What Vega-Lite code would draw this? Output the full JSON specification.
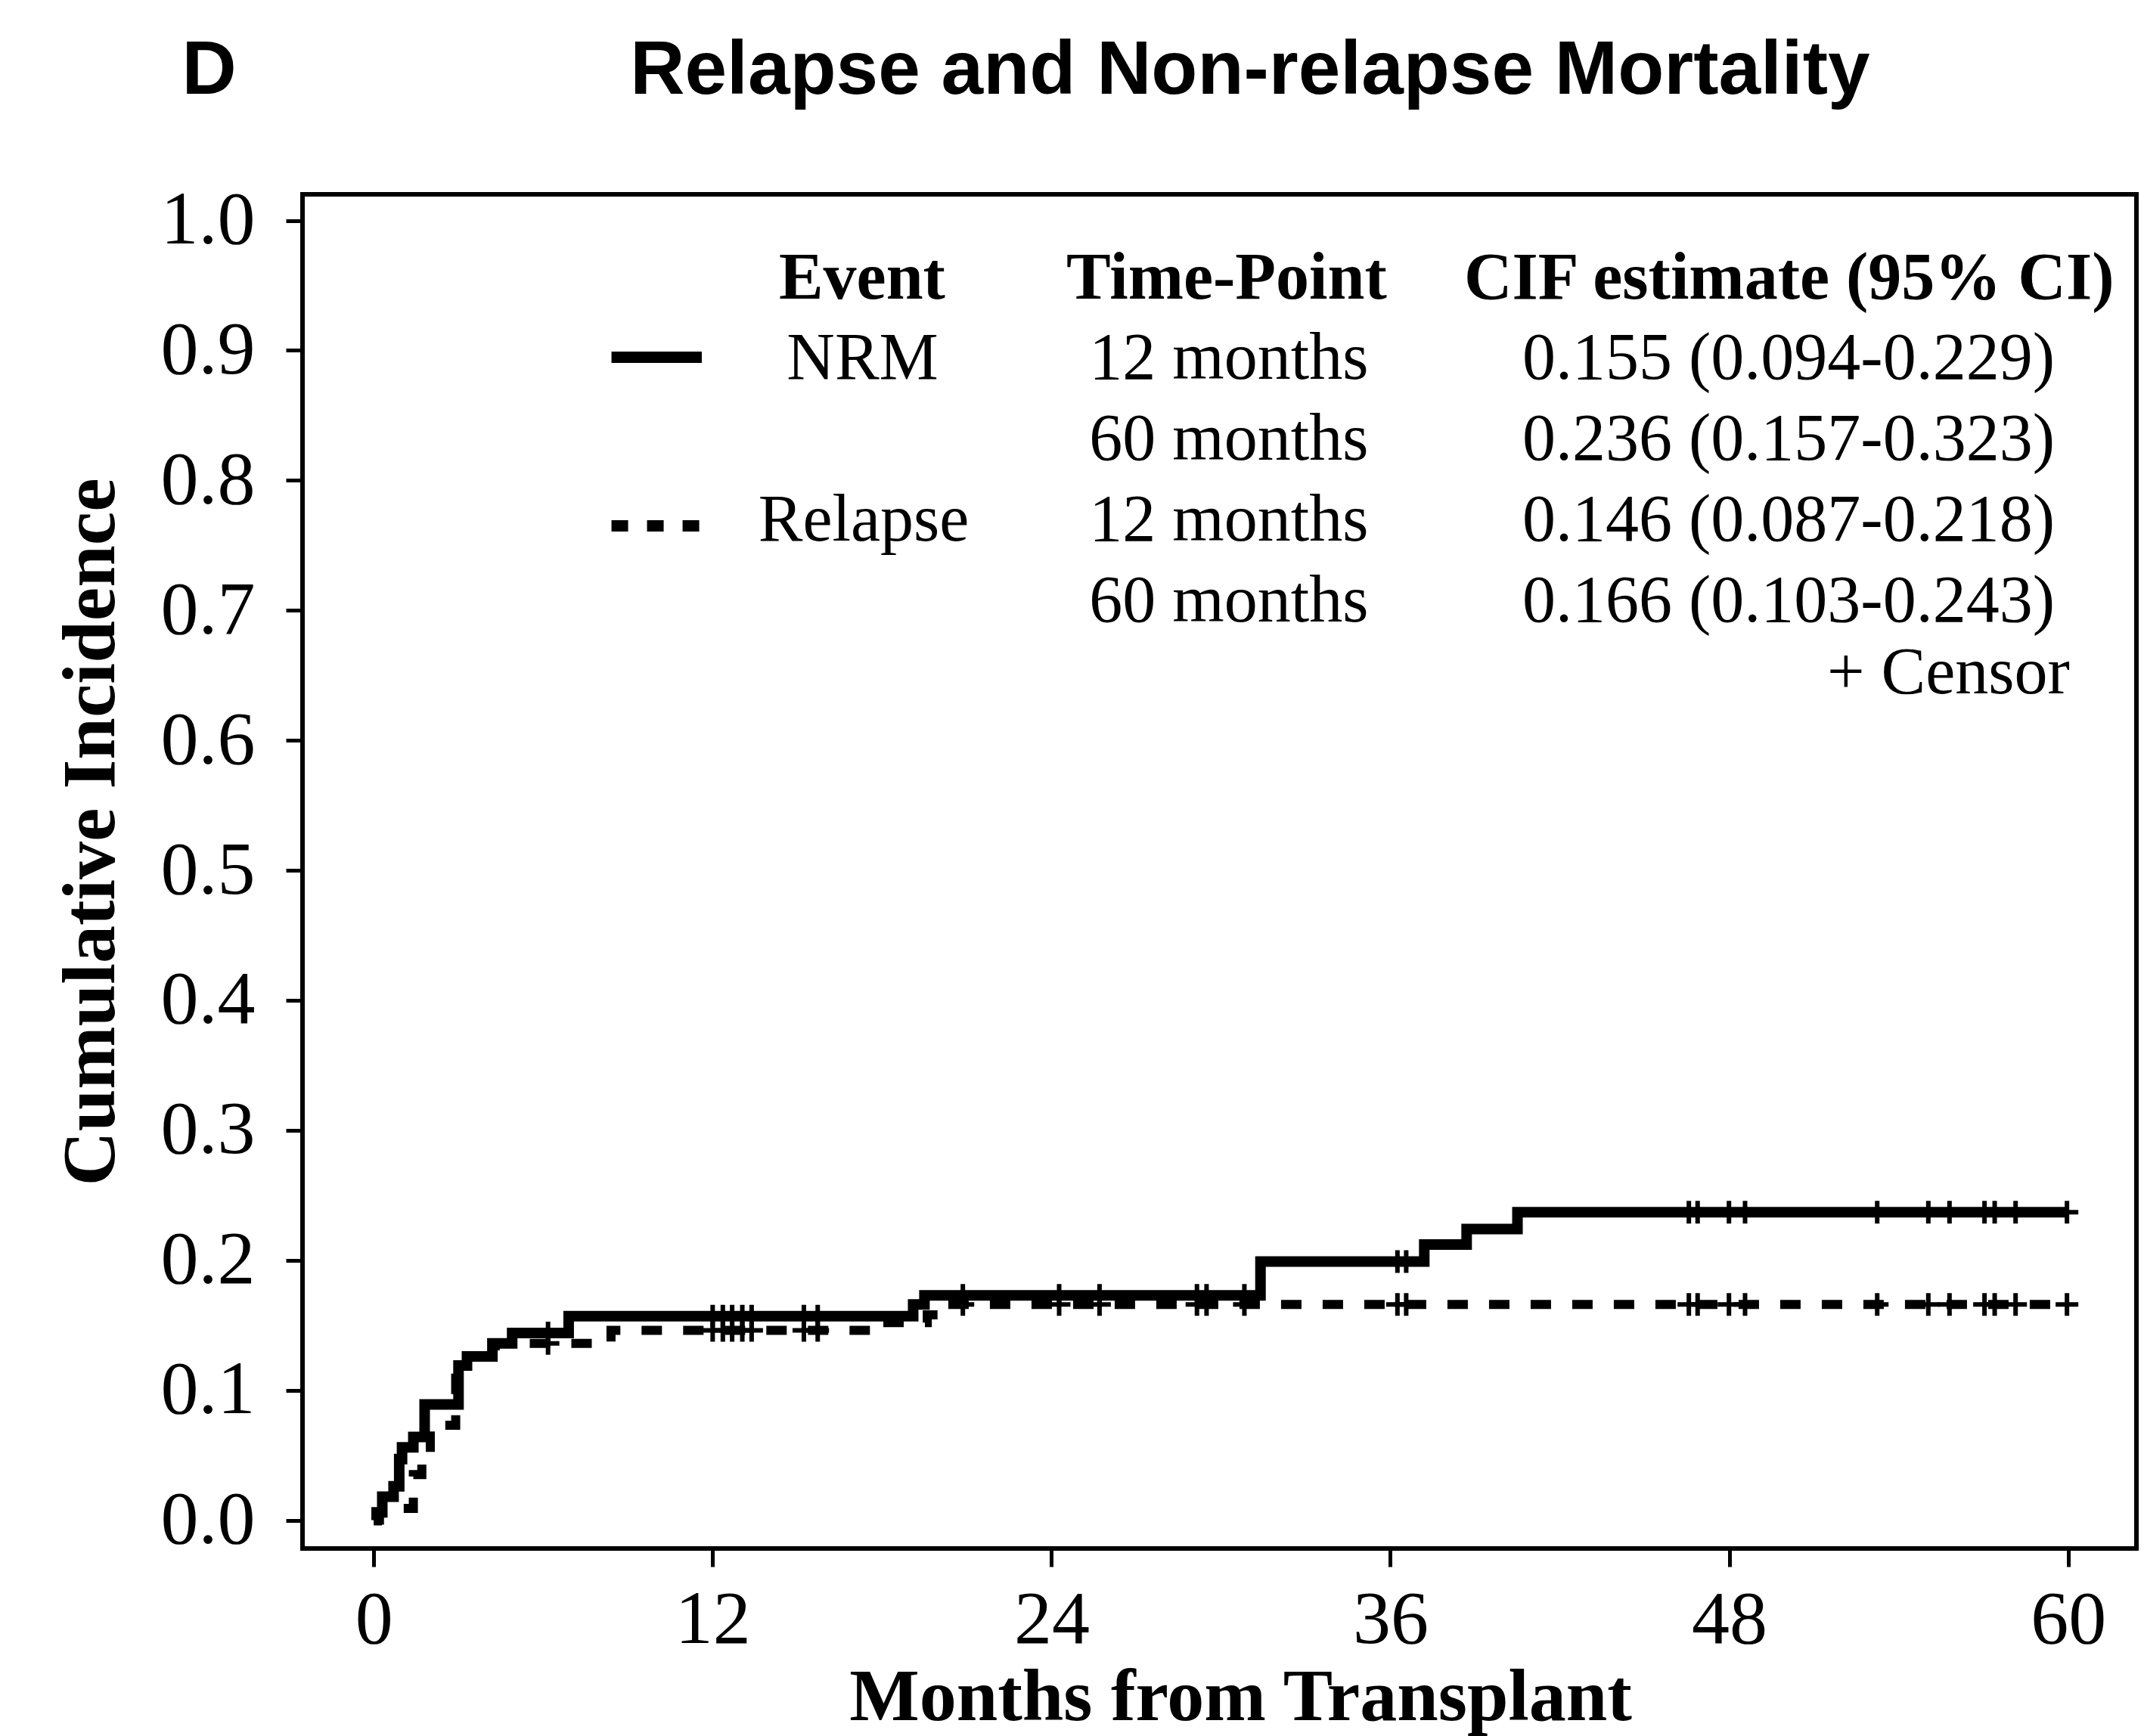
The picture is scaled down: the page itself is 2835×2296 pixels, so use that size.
{
  "$schema": "https://vega.github.io/schema/vega-lite/v6.json",
  "width": 2425,
  "height": 1791,
  "autosize": {"type": "none"},
  "padding": {"left": 400, "top": 257, "right": 10, "bottom": 248},
  "background": "white",
  "config": {
    "view": {"stroke": "black", "strokeWidth": 6},
    "axis": {"grid": false, "domain": false, "tickColor": "black", "labelColor": "black", "titleColor": "black"}
  },
  "datasets": {
    "steps": [
      {"event": "NRM", "month": 0, "cif": 0},
      {"event": "NRM", "month": 0.1, "cif": 0.006},
      {"event": "NRM", "month": 0.3, "cif": 0.018},
      {"event": "NRM", "month": 0.7, "cif": 0.026},
      {"event": "NRM", "month": 0.9, "cif": 0.047},
      {"event": "NRM", "month": 1.0, "cif": 0.056},
      {"event": "NRM", "month": 1.4, "cif": 0.064},
      {"event": "NRM", "month": 1.8, "cif": 0.089},
      {"event": "NRM", "month": 3.0, "cif": 0.119},
      {"event": "NRM", "month": 3.3, "cif": 0.126},
      {"event": "NRM", "month": 4.2, "cif": 0.136},
      {"event": "NRM", "month": 4.9, "cif": 0.144},
      {"event": "NRM", "month": 6.9, "cif": 0.157},
      {"event": "NRM", "month": 19.1, "cif": 0.166},
      {"event": "NRM", "month": 19.5, "cif": 0.173},
      {"event": "NRM", "month": 31.4, "cif": 0.199},
      {"event": "NRM", "month": 37.2, "cif": 0.212},
      {"event": "NRM", "month": 38.7, "cif": 0.224},
      {"event": "NRM", "month": 40.5, "cif": 0.237},
      {"event": "NRM", "month": 60, "cif": 0.237},
      {"event": "Relapse", "month": 0, "cif": 0},
      {"event": "Relapse", "month": 0.2, "cif": 0.006},
      {"event": "Relapse", "month": 0.6, "cif": 0.009},
      {"event": "Relapse", "month": 1.4, "cif": 0.035},
      {"event": "Relapse", "month": 1.7, "cif": 0.056},
      {"event": "Relapse", "month": 2.0, "cif": 0.073},
      {"event": "Relapse", "month": 2.9, "cif": 0.119},
      {"event": "Relapse", "month": 3.3, "cif": 0.126},
      {"event": "Relapse", "month": 4.3, "cif": 0.136},
      {"event": "Relapse", "month": 8.4, "cif": 0.146},
      {"event": "Relapse", "month": 18.0, "cif": 0.152},
      {"event": "Relapse", "month": 19.6, "cif": 0.158},
      {"event": "Relapse", "month": 20.0, "cif": 0.166},
      {"event": "Relapse", "month": 60, "cif": 0.166}
    ],
    "censor": [
      {"event": "NRM", "month": 6.17, "cif": 0.144},
      {"event": "NRM", "month": 12.0, "cif": 0.157},
      {"event": "NRM", "month": 12.36, "cif": 0.157},
      {"event": "NRM", "month": 12.69, "cif": 0.157},
      {"event": "NRM", "month": 13.05, "cif": 0.157},
      {"event": "NRM", "month": 13.38, "cif": 0.157},
      {"event": "NRM", "month": 15.23, "cif": 0.157},
      {"event": "NRM", "month": 15.72, "cif": 0.157},
      {"event": "NRM", "month": 20.86, "cif": 0.173},
      {"event": "NRM", "month": 24.27, "cif": 0.173},
      {"event": "NRM", "month": 25.7, "cif": 0.173},
      {"event": "NRM", "month": 29.15, "cif": 0.173},
      {"event": "NRM", "month": 29.49, "cif": 0.173},
      {"event": "NRM", "month": 30.83, "cif": 0.173},
      {"event": "NRM", "month": 36.25, "cif": 0.199},
      {"event": "NRM", "month": 36.56, "cif": 0.199},
      {"event": "NRM", "month": 46.57, "cif": 0.237},
      {"event": "NRM", "month": 46.88, "cif": 0.237},
      {"event": "NRM", "month": 47.99, "cif": 0.237},
      {"event": "NRM", "month": 48.56, "cif": 0.237},
      {"event": "NRM", "month": 53.24, "cif": 0.237},
      {"event": "NRM", "month": 55.05, "cif": 0.237},
      {"event": "NRM", "month": 55.8, "cif": 0.237},
      {"event": "NRM", "month": 57.04, "cif": 0.237},
      {"event": "NRM", "month": 57.4, "cif": 0.237},
      {"event": "NRM", "month": 58.14, "cif": 0.237},
      {"event": "NRM", "month": 59.96, "cif": 0.237},
      {"event": "Relapse", "month": 6.17, "cif": 0.136},
      {"event": "Relapse", "month": 12.0, "cif": 0.146},
      {"event": "Relapse", "month": 12.36, "cif": 0.146},
      {"event": "Relapse", "month": 12.69, "cif": 0.146},
      {"event": "Relapse", "month": 13.05, "cif": 0.146},
      {"event": "Relapse", "month": 13.38, "cif": 0.146},
      {"event": "Relapse", "month": 15.23, "cif": 0.146},
      {"event": "Relapse", "month": 15.72, "cif": 0.146},
      {"event": "Relapse", "month": 20.86, "cif": 0.166},
      {"event": "Relapse", "month": 24.27, "cif": 0.166},
      {"event": "Relapse", "month": 25.7, "cif": 0.166},
      {"event": "Relapse", "month": 29.15, "cif": 0.166},
      {"event": "Relapse", "month": 29.49, "cif": 0.166},
      {"event": "Relapse", "month": 30.83, "cif": 0.166},
      {"event": "Relapse", "month": 36.25, "cif": 0.166},
      {"event": "Relapse", "month": 36.56, "cif": 0.166},
      {"event": "Relapse", "month": 46.57, "cif": 0.166},
      {"event": "Relapse", "month": 46.88, "cif": 0.166},
      {"event": "Relapse", "month": 47.99, "cif": 0.166},
      {"event": "Relapse", "month": 48.56, "cif": 0.166},
      {"event": "Relapse", "month": 53.24, "cif": 0.166},
      {"event": "Relapse", "month": 55.05, "cif": 0.166},
      {"event": "Relapse", "month": 55.8, "cif": 0.166},
      {"event": "Relapse", "month": 57.04, "cif": 0.166},
      {"event": "Relapse", "month": 57.4, "cif": 0.166},
      {"event": "Relapse", "month": 58.14, "cif": 0.166},
      {"event": "Relapse", "month": 59.96, "cif": 0.166}
    ]
  },
  "layer": [
    {
      "data": {"name": "steps"},
      "transform": [{"filter": "datum.event == 'NRM'"}],
      "mark": {"type": "line", "interpolate": "step-after", "color": "black", "strokeWidth": 14, "strokeCap": "butt", "strokeJoin": "miter"},
      "encoding": {
        "x": {
          "field": "month",
          "type": "quantitative",
          "scale": {"domain": [-2.525, 62.42], "nice": false, "zero": false},
          "axis": {
            "values": [0, 12, 24, 36, 48, 60],
            "tickSize": 24,
            "tickWidth": 5,
            "labelFont": "Liberation Serif",
            "labelFontSize": 100,
            "labelBaseline": "alphabetic",
            "labelPadding": 100,
            "labelFlush": false,
            "labelOverlap": false,
            "title": "Months from Transplant",
            "titleFont": "Liberation Serif",
            "titleFontSize": 98,
            "titleFontWeight": "bold",
            "titleX": 1240,
            "titleY": 226,
            "titleAlign": "center",
            "titleBaseline": "alphabetic"
          }
        },
        "y": {
          "field": "cif",
          "type": "quantitative",
          "scale": {"domain": [-0.0218, 1.0201], "nice": false, "zero": false},
          "axis": {
            "values": [0, 0.1, 0.2, 0.3, 0.4, 0.5, 0.6, 0.7, 0.8, 0.9, 1.0],
            "format": ".1f",
            "tickSize": 22,
            "tickWidth": 5,
            "labelFont": "Liberation Serif",
            "labelFontSize": 100,
            "labelPadding": 41,
            "labelBaseline": "middle",
            "labelFlush": false,
            "labelOverlap": false,
            "title": "Cumulative Incidence",
            "titleFont": "Liberation Serif",
            "titleFontSize": 100,
            "titleFontWeight": "bold",
            "titleAngle": 270,
            "titleX": -250,
            "titleY": 843,
            "titleAlign": "center",
            "titleBaseline": "alphabetic"
          }
        }
      }
    },
    {
      "data": {"name": "steps"},
      "transform": [{"filter": "datum.event == 'Relapse'"}],
      "mark": {"type": "line", "interpolate": "step-after", "color": "black", "strokeWidth": 12, "strokeCap": "butt", "strokeJoin": "miter", "strokeDash": [27, 28]},
      "encoding": {
        "x": {"field": "month", "type": "quantitative"},
        "y": {"field": "cif", "type": "quantitative"}
      }
    },
    {
      "data": {"name": "censor"},
      "mark": {"type": "point", "shape": "M-1,0H1M0,-1V1", "filled": false, "color": "black", "stroke": "black", "strokeWidth": 6, "size": 900, "opacity": 1},
      "encoding": {
        "x": {"field": "month", "type": "quantitative"},
        "y": {"field": "cif", "type": "quantitative"}
      }
    },
    {
      "data": {"values": [{"label": "D"}]},
      "mark": {"type": "text", "font": "Liberation Sans", "fontSize": 100, "fontWeight": "bold", "color": "black", "align": "left", "baseline": "alphabetic"},
      "encoding": {"x": {"datum": -6.794, "type": "quantitative"}, "y": {"datum": 1.0973, "type": "quantitative"}, "text": {"field": "label"}}
    },
    {
      "data": {"values": [{"label": "Relapse and Non-relapse Mortality"}]},
      "mark": {"type": "text", "font": "Liberation Sans", "fontSize": 100, "fontWeight": "bold", "color": "black", "align": "center", "baseline": "alphabetic"},
      "encoding": {"x": {"datum": 31.03, "type": "quantitative"}, "y": {"datum": 1.0973, "type": "quantitative"}, "text": {"field": "label"}}
    },
    {
      "data": {"values": [{"sample": "NRM"}]},
      "mark": {"type": "rule", "color": "black", "strokeWidth": 15, "strokeCap": "butt"},
      "encoding": {"x": {"datum": 8.417, "type": "quantitative"}, "x2": {"datum": 11.615}, "y": {"datum": 0.8947, "type": "quantitative"}}
    },
    {
      "data": {"values": [{"sample": "Relapse"}]},
      "mark": {"type": "rule", "color": "black", "strokeWidth": 15, "strokeCap": "butt", "strokeDash": [22, 25]},
      "encoding": {"x": {"datum": 8.417, "type": "quantitative"}, "x2": {"datum": 11.615}, "y": {"datum": 0.765, "type": "quantitative"}}
    },
    {
      "data": {"values": [{"label": "Event"}]},
      "mark": {"type": "text", "font": "Liberation Serif", "fontSize": 88, "fontWeight": "bold", "color": "black", "align": "center", "baseline": "alphabetic"},
      "encoding": {"x": {"datum": 17.29, "type": "quantitative"}, "y": {"datum": 0.9398, "type": "quantitative"}, "text": {"field": "label"}}
    },
    {
      "data": {"values": [{"label": "Time-Point"}]},
      "mark": {"type": "text", "font": "Liberation Serif", "fontSize": 88, "fontWeight": "bold", "color": "black", "align": "center", "baseline": "alphabetic"},
      "encoding": {"x": {"datum": 30.2, "type": "quantitative"}, "y": {"datum": 0.9398, "type": "quantitative"}, "text": {"field": "label"}}
    },
    {
      "data": {"values": [{"label": "CIF estimate (95% CI)"}]},
      "mark": {"type": "text", "font": "Liberation Serif", "fontSize": 88, "fontWeight": "bold", "color": "black", "align": "center", "baseline": "alphabetic"},
      "encoding": {"x": {"datum": 50.12, "type": "quantitative"}, "y": {"datum": 0.9398, "type": "quantitative"}, "text": {"field": "label"}}
    },
    {
      "data": {"values": [{"label": "NRM"}]},
      "mark": {"type": "text", "font": "Liberation Serif", "fontSize": 88, "color": "black", "align": "center", "baseline": "alphabetic"},
      "encoding": {"x": {"datum": 17.31, "type": "quantitative"}, "y": {"datum": 0.8781, "type": "quantitative"}, "text": {"field": "label"}}
    },
    {
      "data": {"values": [{"label": "Relapse"}]},
      "mark": {"type": "text", "font": "Liberation Serif", "fontSize": 88, "color": "black", "align": "center", "baseline": "alphabetic"},
      "encoding": {"x": {"datum": 17.35, "type": "quantitative"}, "y": {"datum": 0.7536, "type": "quantitative"}, "text": {"field": "label"}}
    },
    {
      "data": {"values": [{"lines": ["12 months", "60 months", "12 months", "60 months"]}]},
      "mark": {"type": "text", "font": "Liberation Serif", "fontSize": 88, "color": "black", "align": "center", "baseline": "alphabetic", "lineHeight": 107},
      "encoding": {"x": {"datum": 30.28, "type": "quantitative"}, "y": {"datum": 0.8781, "type": "quantitative"}, "text": {"field": "lines"}}
    },
    {
      "data": {"values": [{"lines": ["0.155 (0.094-0.229)", "0.236 (0.157-0.323)", "0.146 (0.087-0.218)", "0.166 (0.103-0.243)"]}]},
      "mark": {"type": "text", "font": "Liberation Serif", "fontSize": 88, "color": "black", "align": "center", "baseline": "alphabetic", "lineHeight": 107},
      "encoding": {"x": {"datum": 50.1, "type": "quantitative"}, "y": {"datum": 0.8781, "type": "quantitative"}, "text": {"field": "lines"}}
    },
    {
      "data": {"values": [{"label": "+ Censor"}]},
      "mark": {"type": "text", "font": "Liberation Serif", "fontSize": 88, "color": "black", "align": "right", "baseline": "alphabetic"},
      "encoding": {"x": {"datum": 60.06, "type": "quantitative"}, "y": {"datum": 0.6361, "type": "quantitative"}, "text": {"field": "label"}}
    }
  ]
}
